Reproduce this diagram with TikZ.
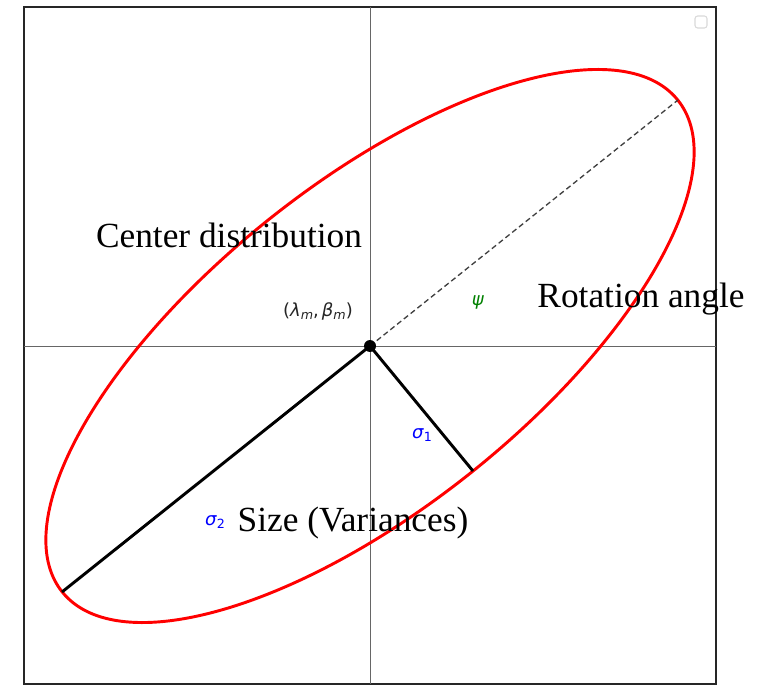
\documentclass[tikz,border=0pt]{standalone}
\usepackage{fontspec}
\setmainfont{Liberation Serif}
\newfontfamily\dvs{DejaVu Sans}
\newcommand\lowsub[1]{\raisebox{-0.35ex}{\fontsize{9.5}{10}\selectfont #1}}
\begin{document}
\begin{tikzpicture}[x=0.75pt,y=-0.75pt,
  axisline/.style={draw=gray!80!black, line width=0.6pt},
  frameline/.style={draw=black!85, line width=0.9pt},
  ellline/.style={draw=red, line width=2.2pt},
  axline/.style={draw=black, line width=2.2pt},
  dashline/.style={draw=black!75, line width=1pt, dash pattern=on 4pt off 2.5pt},
  bigtxt/.style={font=\fontsize{26.5}{30}\selectfont, inner sep=0pt},
  smalltxt/.style={font=\dvs\fontsize{13.5}{15}\selectfont, inner sep=0pt}]
\useasboundingbox (0,0) rectangle (772,685);
% frame
\draw[frameline] (24,7) rectangle (716,684);
% axes
\coordinate (vt) at (370,7);
\coordinate (vb) at (370,684);
\coordinate (hl) at (24,346);
\coordinate (hr) at (716,346);
\draw[axisline] (vt) -- (vb);
\draw[axisline] (hl) -- (hr);
% small button
\draw[draw=black!15, line width=0.8pt, rounded corners=2pt] (695,16) rectangle (707,28);
% ellipse
\draw[ellline, rotate around={38.6:(370,346)}] (370,346) ellipse [x radius=394, y radius=162];
% axis endpoints
\coordinate (A) at (678,100);
\coordinate (B) at (62,592);
\coordinate (D) at (473,471);
\draw[dashline] (370,346) -- (A);
\draw[axline] (370,346) -- (B);
\draw[axline] (370,346) -- (D);
\node[circle, fill=black, inner sep=0pt, minimum size=9pt] (c) at (370,346) {};
% labels
\node[bigtxt] (cd) at (229,235) {Center distribution};
\node[bigtxt] (ra) at (641,299) {Rotation angle};
\node[bigtxt] (sv) at (353,523) {Size (Variances)};
\node[smalltxt, text=black!85] (lm) at (318,311) {(\textit{λ}\lowsub{\textit{m}},\,\textit{β}\lowsub{\textit{m}})};
\node[smalltxt, text=green!50!black] (psi) at (478,302) {\textit{ψ}};
\node[smalltxt, text=blue] (s1) at (422,435) {\textit{σ}\lowsub{1}};
\node[smalltxt, text=blue] (s2) at (215,522) {\textit{σ}\lowsub{2}};
\end{tikzpicture}
\end{document}
